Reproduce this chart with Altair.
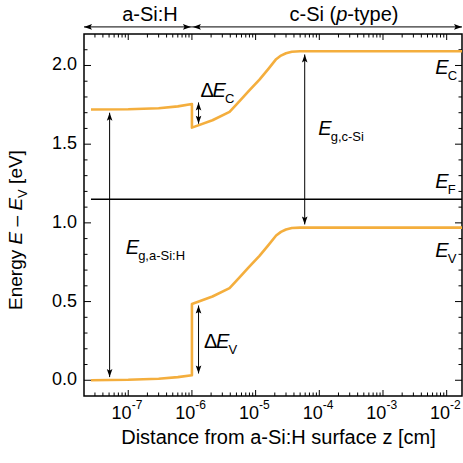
import altair as alt
import pandas as pd

FONT = "Liberation Sans"
ORANGE = "#F4AE3D"

# ---- band edges (z in cm, energy in eV) ----
ec_z = [2.6e-8, 1e-7, 3e-7, 6e-7, 1e-6,
        1e-6, 2.1e-6, 3.9e-6, 5.5e-6, 7.9e-6, 1.15e-5, 1.6e-5, 2.1e-5, 2.5e-5, 3.0e-5, 3.7e-5, 5e-5, 1.74e-2]
ec_e = [1.72, 1.722, 1.728, 1.74, 1.755,
        1.605, 1.652, 1.705, 1.77, 1.84, 1.91, 1.98, 2.04, 2.063, 2.078, 2.087, 2.09, 2.09]
ev_z = [2.6e-8, 1e-7, 3e-7, 6e-7, 1e-6,
        1e-6, 2.1e-6, 3.9e-6, 5.5e-6, 7.9e-6, 1.15e-5, 1.6e-5, 2.1e-5, 2.5e-5, 3.0e-5, 3.7e-5, 5e-5, 1.74e-2]
ev_e = [0.0, 0.003, 0.01, 0.02, 0.032,
        0.485, 0.532, 0.585, 0.65, 0.72, 0.79, 0.86, 0.92, 0.943, 0.958, 0.967, 0.97, 0.97]
ef_z = [2.6e-8, 1.74e-2]
ef_e = [1.15, 1.15]

# ---- double-headed vertical arrows (gaps and offsets) ----
arrow_z = [5.1e-8, 5.9e-5, 1.27e-6, 1.27e-6]
arrow_lo = [0.02, 0.99, 1.63, 0.043]
arrow_hi = [1.70, 2.07, 1.765, 0.475]

# ---- region spans above the plot ----
span_lo = [2.02e-8, 1e-6]
span_hi = [1e-6, 1.74e-2]
span_e = 2.245

# ---- axes ----
X_DOMAIN = [2.02e-8, 1.74e-2]
Y_DOMAIN = [-0.1, 2.2]
X_MAJOR = [1e-7, 1e-6, 1e-5, 1e-4, 1e-3, 1e-2]
X_EXP = ["-7", "-6", "-5", "-4", "-3", "-2"]
X_MINOR = [m * 10.0 ** k for k in range(-8, -1) for m in range(2, 10)
           if X_DOMAIN[0] < m * 10.0 ** k < X_DOMAIN[1]]
Y_MAJOR = [0.0, 0.5, 1.0, 1.5, 2.0]
Y_LABELS = ["0.0", "0.5", "1.0", "1.5", "2.0"]
Y_MINOR = [round(0.1 * i, 1) for i in range(1, 22) if i % 5 != 0]

W, H = 378, 362
xs = alt.Scale(type="log", domain=X_DOMAIN, nice=False)
ys = alt.Scale(domain=Y_DOMAIN, nice=False, zero=False)

UP = "M0,0L-0.7,2L0,1.6L0.7,2Z"
DOWN = "M0,0L-0.7,-2L0,-1.6L0.7,-2Z"
LEFT = "M0,0L2,-0.7L1.6,0L2,0.7Z"
RIGHT = "M0,0L-2,-0.7L-1.6,0L-2,0.7Z"


def xenc(field="z"):
    return alt.X(f"{field}:Q", scale=xs, axis=None)


def yenc(field="e"):
    return alt.Y(f"{field}:Q", scale=ys, axis=None)


def curve(z, e, color, width):
    df = pd.DataFrame({"z": z, "e": e, "seq": list(range(len(z)))})
    return alt.Chart(df).mark_line(color=color, strokeWidth=width, strokeJoin="round").encode(
        x=xenc(), y=yenc(), order="seq:O")


def head(z, e, shape, xoff=0):
    df = pd.DataFrame({"z": z, "e": e})
    return alt.Chart(df).mark_point(shape=shape, filled=True, size=64, color="black",
                                    opacity=1, strokeWidth=0, xOffset=xoff).encode(
        x=xenc(), y=yenc())


def label(z, e, text, dx=0, dy=0, size=20, style="normal"):
    df = pd.DataFrame({"z": [z], "e": [e], "t": [text]})
    return alt.Chart(df).mark_text(align="left", baseline="alphabetic", dx=dx, dy=dy,
                                   fontSize=size, fontStyle=style, font=FONT,
                                   color="black").encode(x=xenc(), y=yenc(), text="t:N")


def ptext(x, y, text, size=20, style="normal", angle=0, align="left"):
    df = pd.DataFrame({"t": [text]})
    return alt.Chart(df).mark_text(align=align, baseline="alphabetic", angle=angle,
                                   fontSize=size, fontStyle=style, font=FONT,
                                   color="black").encode(x=alt.value(x), y=alt.value(y), text="t:N")


layers = []

# inward ticks on all four sides
xmaj = pd.DataFrame({"z": X_MAJOR})
xmin = pd.DataFrame({"z": X_MINOR})
ymaj = pd.DataFrame({"e": Y_MAJOR})
ymin = pd.DataFrame({"e": Y_MINOR})
for df, ln in [(xmaj, 6), (xmin, 3.5)]:
    layers.append(alt.Chart(df).mark_rule(color="black", strokeWidth=1).encode(
        x=xenc(), y=alt.value(H), y2=alt.value(H - ln)))
    layers.append(alt.Chart(df).mark_rule(color="black", strokeWidth=1).encode(
        x=xenc(), y=alt.value(0), y2=alt.value(ln)))
for df, ln in [(ymaj, 7), (ymin, 3.5)]:
    layers.append(alt.Chart(df).mark_rule(color="black", strokeWidth=1).encode(
        y=yenc(), x=alt.value(0), x2=alt.value(ln)))
    layers.append(alt.Chart(df).mark_rule(color="black", strokeWidth=1).encode(
        y=yenc(), x=alt.value(W), x2=alt.value(W - ln)))

# y tick labels
ylab = pd.DataFrame({"e": Y_MAJOR, "t": Y_LABELS})
layers.append(alt.Chart(ylab).mark_text(align="right", baseline="middle", fontSize=18,
                                        font=FONT, color="black").encode(
    y=yenc(), x=alt.value(-7), text="t:N"))

# x tick labels as 10 with raised exponent
xlab = pd.DataFrame({"z": X_MAJOR, "b": ["10"] * len(X_MAJOR), "p": X_EXP})
layers.append(alt.Chart(xlab).mark_text(align="right", baseline="alphabetic", dx=3.4,
                                        fontSize=18, font=FONT, color="black").encode(
    x=xenc(), y=alt.value(H + 23), text="b:N"))
layers.append(alt.Chart(xlab).mark_text(align="left", baseline="alphabetic", dx=3.4,
                                        fontSize=12, font=FONT, color="black").encode(
    x=xenc(), y=alt.value(H + 13), text="p:N"))

# Fermi level and band edges
layers.append(curve(ef_z, ef_e, "black", 1.5))
layers.append(curve(ec_z, ec_e, ORANGE, 2.6))
layers.append(curve(ev_z, ev_e, ORANGE, 2.6))

# vertical double arrows
arr = pd.DataFrame({"z": arrow_z, "lo": arrow_lo, "hi": arrow_hi})
layers.append(alt.Chart(arr).mark_rule(color="black", strokeWidth=1).encode(
    x=xenc(), y=yenc("lo"), y2="hi:Q"))
layers.append(head(arrow_z, arrow_hi, UP))
layers.append(head(arrow_z, arrow_lo, DOWN))

# region spans above the frame
spans = pd.DataFrame({"lo": span_lo, "hi": span_hi, "e": [span_e] * 2})
layers.append(alt.Chart(spans).mark_rule(color="black", strokeWidth=1).encode(
    x=alt.X("lo:Q", scale=xs, axis=None), x2="hi:Q", y=yenc()))
layers.append(head([span_lo[0]], [span_e], LEFT))
layers.append(head([span_hi[0]], [span_e], RIGHT, xoff=-1))
layers.append(head([span_lo[1]], [span_e], LEFT, xoff=1))
layers.append(head([span_hi[1]], [span_e], RIGHT))

layers.append(ptext(66, -13, "a-Si:H", align="center"))
layers.append(ptext(205.5, -13, "c-Si ("))
layers.append(ptext(252.2, -13, "p", style="italic"))
layers.append(ptext(263.3, -13, "-type)"))

# band labels
for z, e, sub in [(6.6e-3, 1.948, "C"), (6.6e-3, 1.219, "F"), (6.6e-3, 0.786, "V")]:
    layers.append(label(z, e, "E", style="italic"))
    layers.append(label(z, e, sub, dx=12.5, dy=6, size=13))
layers.append(label(9.1e-8, 0.803, "E", style="italic"))
layers.append(label(9.1e-8, 0.803, "g,a-Si:H", dx=12.5, dy=6, size=13))
layers.append(label(9.6e-5, 1.561, "E", style="italic"))
layers.append(label(9.6e-5, 1.561, "g,c-Si", dx=12.5, dy=6, size=13))
for z, e, sub in [(1.36e-6, 1.80, "C"), (1.55e-6, 0.205, "V")]:
    layers.append(label(z, e, "\u0394"))
    layers.append(label(z, e, "E", dx=12, style="italic"))
    layers.append(label(z, e, sub, dx=24.5, dy=6, size=13))

# axis titles
layers.append(ptext(194.5, 410, "Distance from a-Si:H surface z [cm]", align="center"))
ty = 276
for txt, off, st, sz, xx in [("Energy", 0, "normal", 19, -62),
                             ("E", 65.5, "italic", 19, -62),
                             ("\u2013", 83.5, "normal", 19, -62),
                             ("E", 99.4, "italic", 19, -62),
                             ("V", 112.1, "normal", 13, -57.5),
                             ("[eV]", 126.1, "normal", 19, -62)]:
    layers.append(ptext(xx, ty - off, txt, size=sz, style=st, angle=270))

chart = alt.layer(*layers).properties(
    width=W, height=H,
    padding={"left": 84, "top": 34, "right": 1, "bottom": 67},
    autosize=alt.AutoSizeParams(type="none"),
    background="white",
).configure_view(stroke="black", strokeWidth=1.5)

chart.save("out.html", embed_options={"renderer": "svg", "actions": False})
